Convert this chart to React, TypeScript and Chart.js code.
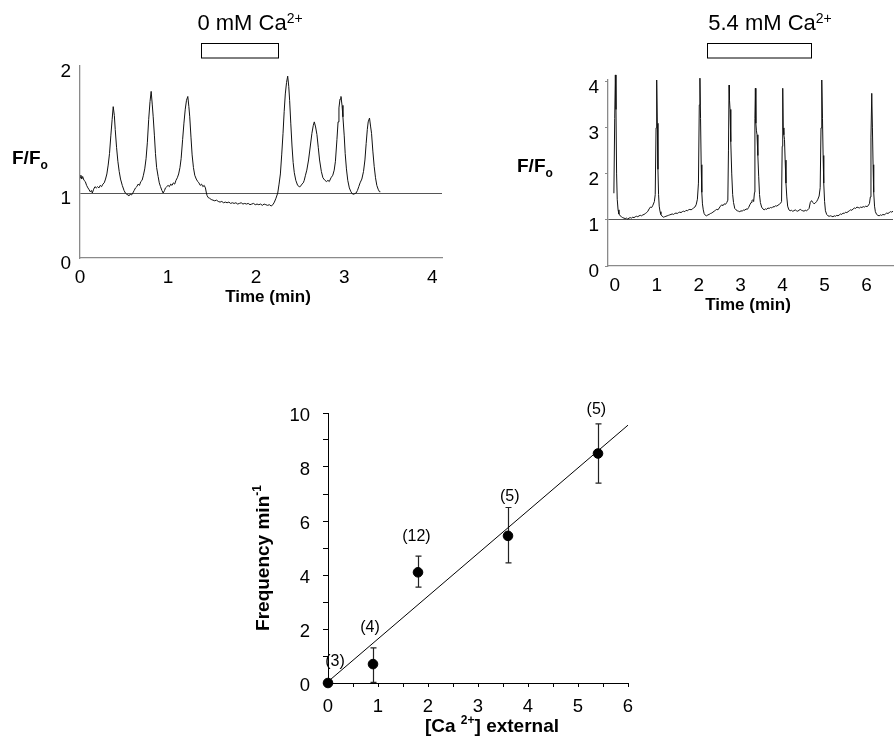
import React, { useEffect, useRef } from 'react';
import { Chart, registerables, LinearScale } from 'chart.js';

Chart.register(...registerables);

const FONT = '"Liberation Sans", Arial, Helvetica, sans-serif';
Chart.defaults.font.family = FONT;
Chart.defaults.color = '#000';

// ---------------- Panel A: 0 mM Ca2+ trace ----------------
const A_TIME = [
  0.0, 0.01, 0.02, 0.03, 0.045, 0.06, 0.075, 0.09, 0.1, 0.115, 0.13, 0.14, 0.155, 0.17, 0.185, 0.2, 0.215, 0.23, 0.245, 0.26,
  0.275, 0.29, 0.305, 0.32, 0.335, 0.35, 0.365, 0.377, 0.39, 0.4, 0.415, 0.43, 0.445, 0.46, 0.48, 0.5, 0.515, 0.53, 0.545, 0.555,
  0.57, 0.585, 0.6, 0.615, 0.63, 0.645, 0.66, 0.675, 0.69, 0.705, 0.72, 0.735, 0.75, 0.765, 0.78, 0.795, 0.808, 0.82, 0.831, 0.845,
  0.857, 0.87, 0.887, 0.9, 0.914, 0.93, 0.944, 0.96, 0.97, 0.985, 1.0, 1.015, 1.03, 1.045, 1.06, 1.075, 1.09, 1.105, 1.12, 1.135,
  1.148, 1.165, 1.18, 1.195, 1.209, 1.224, 1.236, 1.246, 1.26, 1.273, 1.288, 1.303, 1.32, 1.337, 1.35, 1.365, 1.38, 1.395, 1.41, 1.424,
  1.435, 1.443, 1.455, 1.47, 1.49, 1.51, 1.53, 1.55, 1.57, 1.59, 1.61, 1.63, 1.65, 1.67, 1.69, 1.71, 1.73, 1.75, 1.77, 1.79,
  1.81, 1.83, 1.85, 1.87, 1.89, 1.91, 1.93, 1.95, 1.97, 1.99, 2.01, 2.03, 2.05, 2.07, 2.09, 2.11, 2.13, 2.15, 2.17, 2.19,
  2.207, 2.225, 2.245, 2.26, 2.275, 2.29, 2.305, 2.318, 2.331, 2.345, 2.358, 2.37, 2.38, 2.393, 2.407, 2.42, 2.433, 2.45, 2.471, 2.49,
  2.5, 2.52, 2.535, 2.546, 2.56, 2.575, 2.595, 2.615, 2.633, 2.648, 2.66, 2.675, 2.69, 2.705, 2.72, 2.74, 2.758, 2.78, 2.8, 2.815,
  2.83, 2.85, 2.87, 2.886, 2.9, 2.917, 2.93, 2.94, 2.952, 2.963, 2.975, 2.985, 3.0, 3.011, 3.025, 3.04, 3.058, 3.076, 3.09, 3.106,
  3.12, 3.135, 3.15, 3.165, 3.18, 3.2, 3.219, 3.235, 3.249, 3.262, 3.272, 3.287, 3.3, 3.31, 3.325, 3.34, 3.355, 3.37, 3.385, 3.4,
  3.41,
];
const A_RATIO = [
  1.12, 1.14, 1.11, 1.13, 1.1, 1.09, 1.06, 1.04, 1.03, 1.01, 1.02, 1.0, 1.03, 1.05, 1.04, 1.05, 1.04, 1.06, 1.05, 1.07,
  1.08, 1.11, 1.15, 1.22, 1.31, 1.45, 1.58, 1.68, 1.61, 1.5, 1.36, 1.25, 1.17, 1.11, 1.06, 1.02, 1.0, 0.98, 0.97, 0.96,
  0.98, 0.97, 1.0, 1.02, 1.04, 1.05, 1.07, 1.06, 1.09, 1.1, 1.14, 1.19, 1.27, 1.4, 1.58, 1.72, 1.8, 1.7, 1.6, 1.45,
  1.31, 1.2, 1.13, 1.08, 1.05, 1.02, 1.0, 1.02, 1.04, 1.05, 1.06, 1.05, 1.07, 1.06, 1.08, 1.07, 1.1, 1.12, 1.15, 1.2,
  1.27, 1.42, 1.55, 1.66, 1.73, 1.76, 1.68, 1.6, 1.44, 1.3, 1.2, 1.14, 1.11, 1.09, 1.08, 1.06, 1.07, 1.05, 1.06, 1.04,
  1.0, 0.96, 0.93, 0.92, 0.9, 0.89, 0.88, 0.89, 0.87, 0.86, 0.87, 0.85, 0.86, 0.85, 0.86, 0.84, 0.85, 0.84, 0.85, 0.83,
  0.84, 0.85, 0.83, 0.84, 0.83, 0.84, 0.82, 0.83, 0.84, 0.82, 0.83, 0.82, 0.83, 0.81, 0.83, 0.82, 0.81, 0.82, 0.8, 0.82,
  0.86, 0.92, 1.0, 1.07, 1.15, 1.3, 1.47, 1.64, 1.78, 1.87, 1.92, 1.84, 1.73, 1.55, 1.37, 1.24, 1.16, 1.1, 1.06, 1.05,
  1.05, 1.07, 1.08, 1.1, 1.14, 1.18, 1.26, 1.37, 1.47, 1.53, 1.56, 1.52, 1.46, 1.36, 1.26, 1.17, 1.12, 1.1, 1.09, 1.1,
  1.09, 1.12, 1.14, 1.18, 1.25, 1.42, 1.56, 1.67, 1.74, 1.76, 1.69, 1.6, 1.45, 1.31, 1.19, 1.1, 1.04, 1.01, 0.99, 0.98,
  0.99, 1.0, 1.02, 1.05, 1.08, 1.11, 1.17, 1.26, 1.39, 1.5, 1.56, 1.59, 1.52, 1.47, 1.33, 1.21, 1.12, 1.06, 1.03, 1.01,
  1.01,
];
const A_X_TICKS = [0, 1, 2, 3, 4];
const A_Y_TICKS = [0, 1, 2];
const A_BAR = [1.37, 2.24]; // perfusion period (min)
const A_TITLE = ['0 mM Ca', '2+'];

// ---------------- Panel B: 5.4 mM Ca2+ trace ----------------
const B_TIME = [
  -0.02, 0.0, 0.015, 0.03, 0.045, 0.06, 0.08, 0.1, 0.13, 0.16, 0.19, 0.22, 0.25, 0.28, 0.31, 0.34, 0.37, 0.4, 0.43, 0.46,
  0.49, 0.52, 0.55, 0.58, 0.61, 0.64, 0.67, 0.7, 0.73, 0.76, 0.79, 0.82, 0.85, 0.88, 0.91, 0.945, 0.965, 0.985, 1.0, 1.015,
  1.03, 1.045, 1.06, 1.08, 1.1, 1.13, 1.16, 1.19, 1.22, 1.25, 1.28, 1.31, 1.34, 1.37, 1.4, 1.43, 1.46, 1.49, 1.52, 1.55,
  1.58, 1.61, 1.64, 1.67, 1.7, 1.73, 1.76, 1.79, 1.82, 1.85, 1.88, 1.91, 1.94, 1.97, 1.995, 2.015, 2.03, 2.045, 2.06, 2.075,
  2.09, 2.11, 2.13, 2.16, 2.19, 2.22, 2.25, 2.28, 2.31, 2.34, 2.37, 2.4, 2.43, 2.46, 2.49, 2.52, 2.55, 2.58, 2.61, 2.64,
  2.67, 2.695, 2.71, 2.724, 2.735, 2.748, 2.765, 2.788, 2.81, 2.83, 2.86, 2.89, 2.92, 2.95, 2.98, 3.01, 3.04, 3.07, 3.1, 3.13,
  3.16, 3.19, 3.22, 3.25, 3.27, 3.29, 3.31, 3.33, 3.34, 3.351, 3.363, 3.375, 3.39, 3.41, 3.43, 3.45, 3.47, 3.5, 3.53, 3.56,
  3.59, 3.62, 3.65, 3.68, 3.71, 3.74, 3.77, 3.8, 3.83, 3.86, 3.89, 3.92, 3.95, 3.975, 3.99, 4.003, 4.015, 4.03, 4.045, 4.06,
  4.08, 4.1, 4.12, 4.15, 4.18, 4.21, 4.24, 4.27, 4.3, 4.33, 4.36, 4.39, 4.42, 4.45, 4.48, 4.51, 4.54, 4.57, 4.6, 4.63,
  4.66, 4.69, 4.72, 4.75, 4.78, 4.81, 4.84, 4.87, 4.895, 4.915, 4.933, 4.95, 4.965, 4.98, 5.0, 5.02, 5.05, 5.08, 5.11, 5.14,
  5.17, 5.2, 5.23, 5.26, 5.29, 5.32, 5.35, 5.38, 5.41, 5.44, 5.47, 5.5, 5.53, 5.56, 5.59, 5.62, 5.65, 5.68, 5.71, 5.74,
  5.77, 5.8, 5.83, 5.86, 5.89, 5.92, 5.95, 5.98, 6.01, 6.04, 6.07, 6.09, 6.105, 6.124, 6.14, 6.155, 6.17, 6.19, 6.21, 6.24,
  6.27, 6.3, 6.33, 6.36, 6.39, 6.42, 6.45, 6.48, 6.51, 6.54, 6.57, 6.6, 6.63, 6.66,
];
const B_RATIO = [
  1.58, 3.2, 4.15, 3.4, 2.0, 1.45, 1.22, 1.13, 1.09, 1.07, 1.05, 1.04, 1.03, 1.04, 1.02, 1.04, 1.05, 1.04, 1.06, 1.05,
  1.07, 1.08, 1.07, 1.09, 1.1, 1.09, 1.11, 1.12, 1.14, 1.16, 1.19, 1.24, 1.28, 1.27, 1.32, 1.4, 1.55, 3.0, 4.04, 3.1,
  2.1, 1.55, 1.3, 1.18, 1.12, 1.08, 1.06, 1.07, 1.08, 1.09, 1.1, 1.11, 1.12, 1.13, 1.12, 1.14, 1.15, 1.14, 1.16, 1.17,
  1.16, 1.18, 1.19, 1.18, 1.21, 1.2, 1.22, 1.23, 1.22, 1.24, 1.26, 1.28, 1.33, 1.45, 1.8, 3.5, 4.08, 3.2, 2.2, 1.6,
  1.35, 1.22, 1.14, 1.1, 1.09, 1.11, 1.12, 1.14, 1.15, 1.17, 1.19, 1.21, 1.23, 1.22, 1.26, 1.3, 1.33, 1.31, 1.35, 1.34,
  1.38, 1.43, 2.5, 3.93, 3.6, 3.4, 2.7, 2.0, 1.55, 1.38, 1.25, 1.22, 1.2, 1.19, 1.18, 1.2, 1.19, 1.22, 1.21, 1.24,
  1.23, 1.27, 1.33, 1.38, 1.42, 1.44, 1.4, 1.6, 3.2, 3.86, 3.1, 2.95, 2.85, 2.4, 1.95, 1.55, 1.38, 1.28, 1.24, 1.22,
  1.24, 1.23, 1.26, 1.25, 1.27, 1.26, 1.29, 1.28, 1.31, 1.3, 1.32, 1.34, 1.36, 1.4, 2.6, 3.86, 3.0, 2.85, 2.75, 2.3,
  1.8, 1.5, 1.3, 1.22, 1.2, 1.21, 1.19, 1.2, 1.22, 1.2, 1.19, 1.21, 1.23, 1.21, 1.2, 1.19, 1.21, 1.2, 1.22, 1.25,
  1.38, 1.42, 1.38, 1.35, 1.37, 1.4, 1.45, 1.52, 1.7, 3.0, 4.04, 3.2, 2.4, 1.8, 1.4, 1.2, 1.12, 1.09, 1.08, 1.09,
  1.08, 1.07, 1.09, 1.08, 1.1, 1.09, 1.11, 1.13, 1.12, 1.15, 1.14, 1.17, 1.16, 1.18, 1.2, 1.22, 1.21, 1.24, 1.26, 1.25,
  1.28, 1.27, 1.26, 1.28, 1.27, 1.29, 1.28, 1.3, 1.29, 1.31, 1.36, 1.5, 2.8, 3.75, 3.0, 2.2, 1.6, 1.3, 1.18, 1.12,
  1.1, 1.09, 1.11, 1.1, 1.12, 1.11, 1.13, 1.15, 1.14, 1.16, 1.18, 1.17, 1.19, 1.18,
];
const B_X_TICKS = [0, 1, 2, 3, 4, 5, 6];
const B_Y_TICKS = [0, 1, 2, 3, 4];
const B_BAR = [2.2, 4.68];
const B_TITLE = ['5.4 mM Ca', '2+'];

// ---------------- Panel C: frequency vs [Ca2+] ----------------
const CA_EXT = [0, 0.9, 1.8, 3.6, 5.4];
const FREQ = [0, 0.7, 4.1, 5.45, 8.5];
const FREQ_LOW = [0, 0.02, 3.55, 4.45, 7.4];
const FREQ_HIGH = [0, 1.3, 4.7, 6.5, 9.6];
const N_CELLS = [3, 4, 12, 5, 5];
const FIT_X = [0, 6];
const FIT_Y = [0.05, 9.55];
const C_X_TICKS = [0, 0.5, 1, 1.5, 2, 2.5, 3, 3.5, 4, 4.5, 5, 5.5, 6];
const C_Y_TICKS = [0, 1, 2, 3, 4, 5, 6, 7, 8, 9, 10];

// ---------------- piecewise linear scale (panel A's axis is not uniform) ----------------
const A_Y_BREAKS = [
  [0, 0],
  [1, 0.3385],
  [2, 1],
];
function valueToFrac(v: number) {
  const b = A_Y_BREAKS;
  let i = 0;
  if (v >= b[b.length - 1][0]) i = b.length - 2;
  else {
    for (let k = 0; k < b.length - 1; k++) {
      if (v <= b[k + 1][0]) { i = k; break; }
    }
  }
  const [v0, f0] = b[i];
  const [v1, f1] = b[i + 1];
  return f0 + ((v - v0) / (v1 - v0)) * (f1 - f0);
}
function fracToValue(f: number) {
  const b = A_Y_BREAKS;
  let i = 0;
  if (f >= b[b.length - 1][1]) i = b.length - 2;
  else {
    for (let k = 0; k < b.length - 1; k++) {
      if (f <= b[k + 1][1]) { i = k; break; }
    }
  }
  const [v0, f0] = b[i];
  const [v1, f1] = b[i + 1];
  return v0 + ((f - f0) / (f1 - f0)) * (v1 - v0);
}
class PiecewiseLinearScale extends LinearScale {
  static id = 'piecewiseLinear';
  static defaults = LinearScale.defaults;
  getPixelForValue(value: any) {
    if (value === null || value === undefined || Number.isNaN(value)) return NaN;
    return this.getPixelForDecimal(valueToFrac(value));
  }
  getValueForPixel(pixel: number) {
    return fracToValue(this.getDecimalForPixel(pixel));
  }
}
Chart.register(PiecewiseLinearScale as any);

// ---------------- helpers ----------------
type Part = { t: string; size: number; bold?: boolean; dy?: number };
function drawRich(ctx: CanvasRenderingContext2D, parts: Part[], x: number, y: number, align: 'left' | 'center') {
  const widths = parts.map((p) => {
    ctx.font = `${p.bold ? 'bold ' : ''}${p.size}px ${FONT}`;
    return ctx.measureText(p.t).width;
  });
  const total = widths.reduce((a, b) => a + b, 0);
  let cx = align === 'center' ? x - total / 2 : x;
  ctx.textAlign = 'left';
  ctx.textBaseline = 'alphabetic';
  ctx.fillStyle = '#000';
  parts.forEach((p, i) => {
    ctx.font = `${p.bold ? 'bold ' : ''}${p.size}px ${FONT}`;
    ctx.fillText(p.t, cx, y + (p.dy || 0));
    cx += widths[i];
  });
}
const setTicks = (vals: number[]) => (s: any) => {
  s.ticks = vals.map((v) => ({ value: v }));
};

function traceChart(canvas: HTMLCanvasElement, cfg: any) {
  return new Chart(canvas, {
    type: 'line',
    data: {
      datasets: [
        {
          data: cfg.time.map((t: number, i: number) => ({ x: t, y: cfg.ratio[i] })),
          borderColor: '#111',
          borderWidth: 1,
          pointRadius: 0,
          tension: 0,
          clip: false,
        },
      ],
    },
    options: {
      responsive: false,
      animation: false,
      devicePixelRatio: 1,
      events: [],
      layout: { padding: cfg.padding },
      plugins: { legend: { display: false }, tooltip: { enabled: false }, title: { display: false } },
      scales: {
        x: {
          type: 'linear',
          min: cfg.xMin,
          max: cfg.xMax,
          afterBuildTicks: setTicks(cfg.xTicks),
          afterFit: (s: any) => { s.height = cfg.xHeight; },
          grid: { display: false, drawTicks: false },
          border: { display: true, color: '#8a8a8a', width: 1.3 },
          ticks: { padding: cfg.xPad, font: { size: 19 }, color: '#000', maxRotation: 0, autoSkip: false },
        },
        y: {
          type: cfg.yType,
          min: cfg.yMin,
          max: cfg.yMax,
          afterBuildTicks: setTicks(cfg.yTicks),
          afterFit: (s: any) => { s.width = cfg.yWidth; },
          grid: {
            display: true,
            drawTicks: cfg.yTickLen > 0,
            tickLength: cfg.yTickLen,
            tickColor: '#8a8a8a',
            color: (c: any) => (c.tick && c.tick.value === 1 ? '#555' : 'rgba(0,0,0,0)'),
            lineWidth: 1,
          },
          border: { display: true, color: '#8a8a8a', width: 1.3 },
          ticks: { padding: cfg.yPad, labelOffset: 6, font: { size: 19 }, color: '#000', autoSkip: false },
        },
      },
    },
    plugins: [
      {
        id: 'annot',
        afterDraw(chart: any) {
          const ctx = chart.ctx as CanvasRenderingContext2D;
          const xs = chart.scales.x;
          ctx.save();
          // title with superscript
          drawRich(ctx, [
            { t: cfg.title[0], size: 22 },
            { t: cfg.title[1], size: 14, dy: -7 },
          ], cfg.titleX, 30, 'center');
          // perfusion bar
          const x1 = xs.getPixelForValue(cfg.bar[0]);
          const x2 = xs.getPixelForValue(cfg.bar[1]);
          ctx.fillStyle = '#fff';
          ctx.fillRect(x1, 43.5, x2 - x1, 14.5);
          ctx.strokeStyle = '#000';
          ctx.lineWidth = 1;
          ctx.strokeRect(Math.round(x1) + 0.5, 43.5, Math.round(x2 - x1), 14.5);
          // F/Fo label
          drawRich(ctx, [
            { t: 'F/F', size: 19, bold: true },
            { t: 'o', size: 12, bold: true, dy: 5 },
          ], cfg.ffX, cfg.ffY, 'left');
          // x-axis title
          drawRich(ctx, [{ t: 'Time (min)', size: 17, bold: true }], cfg.timeX, cfg.timeY, 'center');
          ctx.restore();
        },
      },
    ],
  } as any);
}

function freqChart(canvas: HTMLCanvasElement) {
  const labelOffsets = [
    [7, -21],
    [-3, -20],
    [-1.6, -20],
    [1.7, -11],
    [-1.6, -14],
  ];
  return new Chart(canvas, {
    type: 'scatter',
    data: {
      datasets: [
        {
          type: 'line',
          data: FIT_X.map((x, i) => ({ x, y: FIT_Y[i] })),
          borderColor: '#000',
          borderWidth: 1,
          pointRadius: 0,
          showLine: true,
          clip: false,
          order: 2,
        },
        {
          type: 'scatter',
          data: CA_EXT.map((x, i) => ({ x, y: FREQ[i] })),
          backgroundColor: '#000',
          borderColor: '#000',
          pointRadius: 4.8,
          clip: false,
          order: 1,
        },
      ],
    },
    options: {
      responsive: false,
      animation: false,
      devicePixelRatio: 1,
      events: [],
      layout: { padding: { left: 0, right: 32, top: 33, bottom: 0 } },
      plugins: { legend: { display: false }, tooltip: { enabled: false } },
      scales: {
        x: {
          type: 'linear',
          min: 0,
          max: 6,
          afterBuildTicks: setTicks(C_X_TICKS),
          afterFit: (s: any) => { s.height = 57; },
          grid: { display: true, drawOnChartArea: false, drawTicks: true, tickLength: 4, tickColor: '#000', tickWidth: 1 },
          border: { display: true, color: '#000', width: 1 },
          ticks: {
            padding: 9,
            font: { size: 18.5 },
            color: '#000',
            maxRotation: 0,
            autoSkip: false,
            callback: (v: any) => (Number.isInteger(v) ? String(v) : ''),
          },
        },
        y: {
          type: 'linear',
          min: 0,
          max: 10,
          afterBuildTicks: setTicks(C_Y_TICKS),
          afterFit: (s: any) => { s.width = 88; },
          grid: { display: true, drawOnChartArea: false, drawTicks: true, tickLength: 5, tickColor: '#000', tickWidth: 1 },
          border: { display: true, color: '#000', width: 1 },
          ticks: {
            padding: 13,
            labelOffset: 3,
            font: { size: 18.5 },
            color: '#000',
            autoSkip: false,
            callback: (v: any) => (v % 2 === 0 ? String(v) : ''),
          },
        },
      },
    },
    plugins: [
      {
        id: 'errorbars',
        beforeDatasetsDraw(chart: any) {
          const ctx = chart.ctx as CanvasRenderingContext2D;
          const xs = chart.scales.x;
          const ys = chart.scales.y;
          ctx.save();
          ctx.strokeStyle = '#222';
          ctx.lineWidth = 1.2;
          CA_EXT.forEach((c, i) => {
            if (FREQ_HIGH[i] === FREQ_LOW[i]) return;
            const x = Math.round(xs.getPixelForValue(c)) + 0.5;
            const yt = ys.getPixelForValue(FREQ_HIGH[i]);
            const yb = ys.getPixelForValue(FREQ_LOW[i]);
            ctx.beginPath();
            ctx.moveTo(x, yt);
            ctx.lineTo(x, yb);
            ctx.moveTo(x - 3, yt);
            ctx.lineTo(x + 3, yt);
            ctx.moveTo(x - 3, yb);
            ctx.lineTo(x + 3, yb);
            ctx.stroke();
          });
          ctx.restore();
        },
        afterDraw(chart: any) {
          const ctx = chart.ctx as CanvasRenderingContext2D;
          const xs = chart.scales.x;
          const ys = chart.scales.y;
          ctx.save();
          // n labels
          ctx.font = `16px ${FONT}`;
          ctx.fillStyle = '#000';
          ctx.textAlign = 'center';
          ctx.textBaseline = 'middle';
          CA_EXT.forEach((c, i) => {
            const x = xs.getPixelForValue(c) + labelOffsets[i][0];
            const y = ys.getPixelForValue(FREQ_HIGH[i]) + labelOffsets[i][1];
            ctx.fillText(`(${N_CELLS[i]})`, x, y);
          });
          // x title
          drawRich(ctx, [
            { t: '[Ca ', size: 19, bold: true },
            { t: '2+', size: 12, bold: true, dy: -8 },
            { t: '] external', size: 19, bold: true },
          ], 252, 352, 'center');
          // y title (rotated)
          ctx.translate(29, 178);
          ctx.rotate(-Math.PI / 2);
          drawRich(ctx, [
            { t: 'Frequency min', size: 19, bold: true },
            { t: '-1', size: 12, bold: true, dy: -8 },
          ], 0, 0, 'center');
          ctx.restore();
        },
      },
    ],
  } as any);
}

export default function App() {
  const refA = useRef<HTMLCanvasElement>(null);
  const refB = useRef<HTMLCanvasElement>(null);
  const refC = useRef<HTMLCanvasElement>(null);

  useEffect(() => {
    document.body.style.margin = '0';
    document.body.style.background = '#fff';
    const charts: Chart[] = [];
    if (refA.current) {
      charts.push(
        traceChart(refA.current, {
          time: A_TIME,
          ratio: A_RATIO,
          padding: { left: 0, right: 28, top: 66, bottom: 0 },
          xMin: 0,
          xMax: 4.11,
          xTicks: A_X_TICKS,
          xHeight: 62,
          xPad: 8,
          yType: 'piecewiseLinear',
          yMin: 0,
          yMax: 2,
          yTicks: A_Y_TICKS,
          yWidth: 80,
          yPad: 9,
          yTickLen: 0,
          title: A_TITLE,
          titleX: 250,
          bar: A_BAR,
          ffX: 12,
          ffY: 163.5,
          timeX: 268,
          timeY: 302,
        })
      );
    }
    if (refB.current) {
      charts.push(
        traceChart(refB.current, {
          time: B_TIME,
          ratio: B_RATIO,
          padding: { left: 0, right: 2, top: 80, bottom: 0 },
          xMin: -0.16,
          xMax: 6.63,
          xTicks: B_X_TICKS,
          xHeight: 54,
          xPad: 8,
          yType: 'linear',
          yMin: 0,
          yMax: 4.04,
          yTicks: B_Y_TICKS,
          yWidth: 128,
          yPad: 6,
          yTickLen: 3,
          title: B_TITLE,
          titleX: 290,
          bar: B_BAR,
          ffX: 37,
          ffY: 172,
          timeX: 268,
          timeY: 310,
        })
      );
    }
    if (refC.current) charts.push(freqChart(refC.current));
    return () => charts.forEach((c) => c.destroy());
  }, []);

  return (
    <div style={{ position: 'relative', width: 895, height: 740, background: '#fff', overflow: 'hidden' }}>
      <canvas ref={refA} width={470} height={320} style={{ position: 'absolute', left: 0, top: 0 }} />
      <canvas ref={refB} width={415} height={320} style={{ position: 'absolute', left: 480, top: 0 }} />
      <canvas ref={refC} width={420} height={360} style={{ position: 'absolute', left: 240, top: 380 }} />
    </div>
  );
}
